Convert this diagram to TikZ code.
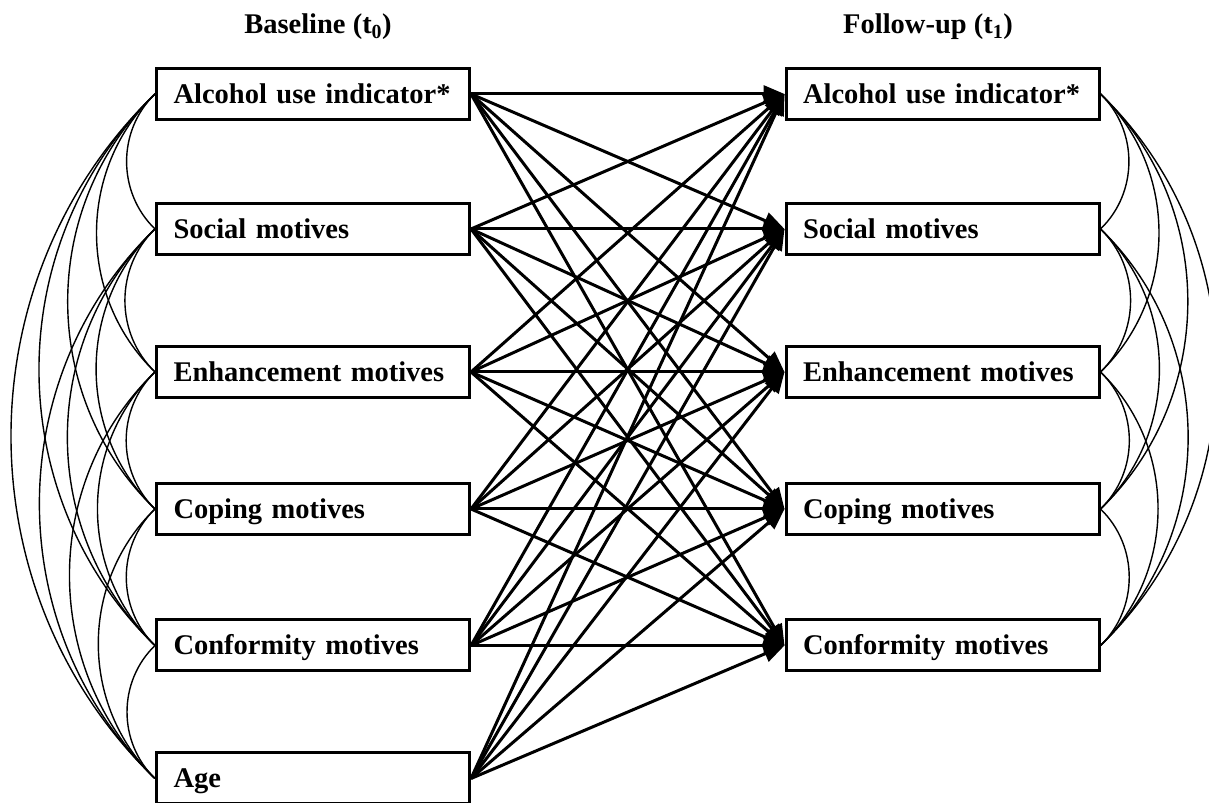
\documentclass[tikz,border=0pt]{standalone}
\usepackage{fontspec}
\setmainfont{Liberation Serif}
\usetikzlibrary{arrows.meta}
\begin{document}
\begin{tikzpicture}[x=1bp,y=1bp,
  box/.style={draw, line width=3bp, fill=white, minimum width=313bp, minimum height=51bp,
    inner xsep=17bp, inner ysep=0pt, text width=279bp, align=left,
    font=\bfseries\fontsize{28.5bp}{34bp}\selectfont, text height=19bp, text depth=0bp},
  ttl/.style={font=\bfseries\fontsize{28.5bp}{34bp}\selectfont, inner sep=0pt},
  regr/.style={line width=3bp, -{Triangle[length=21bp,width=17bp]}},
  cov/.style={line width=1.4bp}]
\useasboundingbox (0,0) rectangle (1209,803);
\clip (0,0) rectangle (1209,803);
% titles
\node[ttl, anchor=base] (t0) at (318,769) {Baseline (t\textsubscript{0})};
\node[ttl, anchor=base] (t1) at (928,769) {Follow-up (t\textsubscript{1})};
% left boxes
\node[box] (L1) at (313,709) {Alcohol use indicator*};
\node[box] (L2) at (313,574) {Social motives};
\node[box] (L3) at (313,431) {Enhancement motives};
\node[box] (L4) at (313,294) {Coping motives};
\node[box] (L5) at (313,157.5) {Conformity motives};
\node[box] (L6) at (313,24.5) {Age};
% right boxes
\node[box] (R1) at (942.5,709) {Alcohol use indicator*};
\node[box] (R2) at (942.5,574) {Social motives};
\node[box] (R3) at (942.5,431) {Enhancement motives};
\node[box] (R4) at (942.5,294) {Coping motives};
\node[box] (R5) at (942.5,157.5) {Conformity motives};
% regression paths
\foreach \i in {1,...,6}
  \foreach \j in {1,...,5}
    \draw[regr] (L\i.east) -- (R\j.west);
% covariances left
\foreach \i in {1,...,5}{
  \pgfmathtruncatemacro\nxt{\i+1}
  \foreach \j in {\nxt,...,6}
    \draw[cov] (L\i.west) to[bend right=46] (L\j.west);
}
% covariances right
\foreach \i in {1,...,4}{
  \pgfmathtruncatemacro\nxt{\i+1}
  \foreach \j in {\nxt,...,5}
    \draw[cov] (R\i.east) to[bend left=46] (R\j.east);
}
\end{tikzpicture}
\end{document}
